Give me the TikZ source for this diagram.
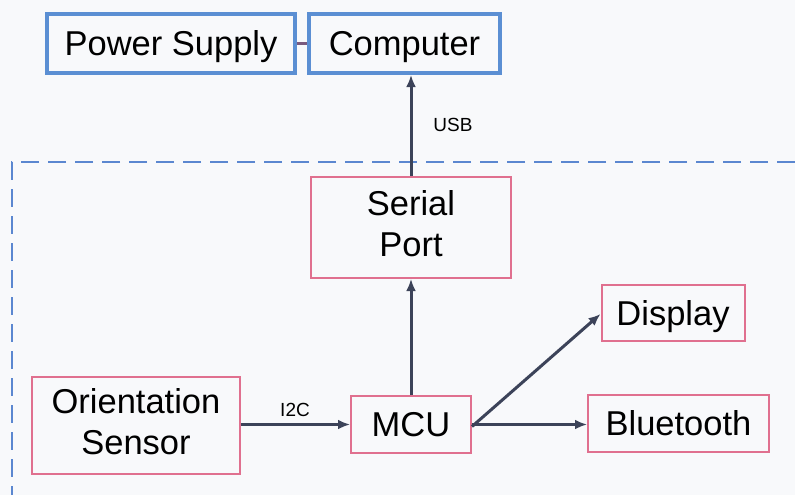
\documentclass[tikz,border=0pt]{standalone}
\usepackage{fontspec}
\setmainfont{Liberation Sans}
\usetikzlibrary{arrows.meta}
\definecolor{bgc}{HTML}{F8F9FB}
\definecolor{blueb}{HTML}{5B8FD3}
\definecolor{pinkb}{HTML}{E0708F}
\definecolor{arrowc}{HTML}{3C4359}
\definecolor{linkc}{HTML}{7A5A7E}
\definecolor{dashc}{HTML}{5B87D0}
\newcommand{\twoline}[2]{\begin{tabular}[b]{@{}c@{}}#1\\#2\end{tabular}}
\tikzset{
  bigtext/.style={font=\fontsize{34.5}{41}\selectfont, text=black, inner sep=0pt, text height=24.7pt, text depth=0pt},
  twotext/.style={text height=58.7pt, text depth=0pt},
  bluebox/.style={bigtext, draw=blueb, line width=4pt, rectangle},
  pinkbox/.style={bigtext, draw=pinkb, line width=2pt, rectangle},
  conn/.style={draw=arrowc, line width=3pt, -{Latex[length=12pt,width=10pt]}},
  lbl/.style={font=\fontsize{19}{22}\selectfont, text=black, inner sep=0pt},
  boundary/.style={draw=dashc, line width=2pt, dash pattern=on 18pt off 9pt}
}
\begin{document}
\begin{tikzpicture}[x=1pt,y=-1pt]
\fill[bgc] (0,0) rectangle (795,495);
\useasboundingbox (0,0) rectangle (795,495);

% boundary dashed
\coordinate (dR) at (795,162);
\coordinate (dC) at (12,162);
\coordinate (dB) at (12,495);
\draw[boundary] (dR) -- (dC) -- (dB);

\node[bluebox, minimum width=248pt, minimum height=59pt] (ps) at (171,43.5) {Power Supply};
\node[bluebox, minimum width=191pt, minimum height=59pt] (comp) at (404.5,43.5) {Computer};
\node[pinkbox, twotext, minimum width=200pt, minimum height=101pt] (serial) at (411,227.5) {\twoline{Serial}{Port}};
\node[pinkbox, minimum width=143pt, minimum height=56pt] (disp) at (673,313) {Display};
\node[pinkbox, twotext, minimum width=208pt, minimum height=97pt] (orient) at (136,425.5) {\twoline{Orientation}{Sensor}};
\node[pinkbox, minimum width=120pt, minimum height=57pt] (mcu) at (411,424.5) {MCU};
\node[pinkbox, minimum width=181pt, minimum height=57pt] (bt) at (678.5,423.5) {Bluetooth};

\draw[linkc, line width=3pt] (ps.east) -- (comp.west);
\draw[conn] (serial.north) -- (serial.north |- comp.south);
\draw[conn] (mcu.north) -- (serial.south);
\draw[conn] (orient.east |- mcu.west) -- (mcu.west);
\draw[conn] (mcu.east) -- (mcu.east -| bt.west);
\draw[conn] ([yshift=-2pt]mcu.east) -- ([yshift=-1pt]disp.west);

\node[lbl] (usb) at (453,125) {USB};
\node[lbl] (i2c) at (295,410) {I2C};
\end{tikzpicture}
\end{document}
